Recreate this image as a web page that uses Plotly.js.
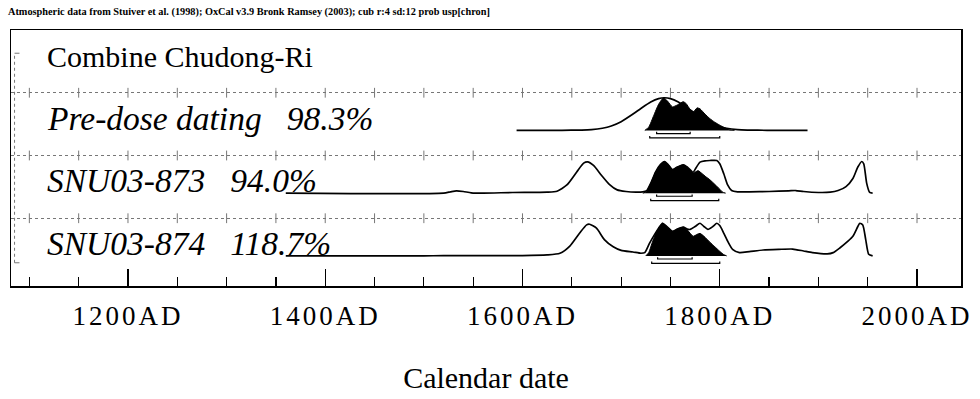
<!DOCTYPE html>
<html>
<head>
<meta charset="utf-8">
<script src="https://cdn.plot.ly/plotly-3.0.1.min.js"></script>
<style>
  html, body { margin: 0; padding: 0; background: #fff; }
  #chart { width: 980px; height: 399px; }
  .xtick text { letter-spacing: 3px; }
</style>
</head>
<body>
<div id="chart"></div>
<script>
// ---------------- Data ----------------
const rowLabels = ["Combine Chudong-Ri", "Pre-dose dating\u00a0\u00a0\u00a098.3%", "SNU03-873\u00a0\u00a0\u00a094.0%", "SNU03-874\u00a0\u00a0\u00a0118.7%"];

// Pre-dose dating: likelihood (outline) and posterior (filled), relative probability
const predoseOutlineYears = [1594,1640,1660,1670,1681,1690,1700,1712,1720,1730,1738,1744,1750,1758,1768,1776,1788,1798,1807,1818,1828,1848,1889];
const predoseOutlineProb  = [0,0.003,0.01,0.023,0.066,0.135,0.266,0.50,0.67,0.87,0.975,1.0,0.975,0.87,0.67,0.5,0.266,0.135,0.066,0.023,0.01,0.003,0];
const predoseFillYears = [1724,1728,1733,1738,1743,1747,1752,1757,1763,1766,1770,1773,1777,1780,1785,1790,1795,1800,1805,1810,1815];
const predoseFillProb  = [0,0.1,0.45,0.8,1.0,0.9,0.72,0.78,0.88,0.82,0.64,0.56,0.69,0.66,0.5,0.36,0.25,0.16,0.08,0.02,0];

// SNU03-873
const s873OutlineYears = [1360,1520,1527,1533,1540,1548,1560,1590,1625,1635,1645,1655,1662,1666,1672,1680,1688,1696,1705,1715,1722,1726,1730,1735,1740,1744,1748,1752,1757,1763,1767,1773,1776,1780,1785,1790,1797,1800,1804,1808,1812,1818,1830,1850,1870,1877,1885,1900,1912,1920,1928,1935,1940,1944,1946,1949,1952,1955];
const s873OutlineProb  = [0,0,0.04,0.07,0.05,0.01,0,0.02,0.03,0.06,0.25,0.65,0.92,0.96,0.85,0.55,0.27,0.1,0.05,0.03,0.04,0.08,0.3,0.65,0.88,0.97,0.86,0.72,0.8,0.87,0.8,0.64,0.78,0.95,0.99,1.0,1.0,0.9,0.6,0.25,0.08,0.04,0.04,0.05,0.07,0.08,0.05,0.02,0.03,0.08,0.2,0.45,0.8,0.97,0.9,0.3,0.02,0];
const s873FillYears = [1722,1726,1730,1735,1740,1744,1748,1752,1757,1763,1767,1773,1776,1778,1782,1786,1790,1795,1800,1803,1806];
const s873FillProb  = [0,0.05,0.3,0.65,0.88,0.97,0.86,0.72,0.8,0.87,0.8,0.62,0.66,0.69,0.6,0.5,0.41,0.27,0.12,0.03,0];

// SNU03-874
const s874OutlineYears = [1360,1500,1520,1600,1625,1638,1648,1658,1665,1668,1675,1683,1692,1700,1712,1720,1724,1729,1734,1738,1742,1747,1752,1757,1763,1767,1770,1775,1780,1784,1788,1793,1797,1800,1804,1808,1813,1820,1830,1844,1860,1874,1885,1894,1909,1915,1922,1930,1935,1940,1942,1945,1948,1951,1955];
const s874OutlineProb  = [0,0,0.01,0.01,0.03,0.08,0.3,0.7,0.95,0.97,0.85,0.5,0.28,0.17,0.12,0.08,0.1,0.4,0.66,0.85,1.0,0.88,0.75,0.82,0.88,0.82,0.81,0.9,1.0,0.9,0.81,0.9,1.0,0.93,0.7,0.45,0.2,0.1,0.13,0.18,0.2,0.21,0.15,0.1,0.06,0.1,0.25,0.45,0.6,0.9,1.0,0.95,0.5,0.05,0];
const s874FillYears = [1725,1728,1732,1737,1742,1747,1752,1757,1763,1767,1773,1777,1780,1784,1790,1795,1800,1804,1807];
const s874FillProb  = [0,0.1,0.45,0.8,1.0,0.88,0.75,0.82,0.88,0.8,0.6,0.66,0.69,0.6,0.42,0.28,0.14,0.04,0];

// Highest probability ranges [start, end] : 68.2% and 95.4%
const predose68 = [1736, 1770], predose95 = [1729, 1800];
const s873_68 = [1736, 1772],  s873_95 = [1730, 1799];
const s874_68 = [1737, 1772],  s874_95 = [1731, 1800];

// Axis ticks
const majorTickYears = [1200, 1400, 1600, 1800, 2000];
const majorTickText  = ["1200AD", "1400AD", "1600AD", "1800AD", "2000AD"];
const gridTickYears  = [1100,1150,1200,1250,1300,1350,1400,1450,1500,1550,1600,1650,1700,1750,1800,1850,1900,1950,2000];

const headerText = "Atmospheric data from Stuiver et al. (1998); OxCal v3.9 Bronk Ramsey (2003); cub r:4 sd:12 prob usp[chron]";

// ---------------- Build ----------------
const FONT = "Liberation Serif, Times New Roman, serif";
const H = 0.52;          // height of a unit probability in row units
const rows = [
  {base: 2.4, oy: predoseOutlineYears, op: predoseOutlineProb, fy: predoseFillYears, fp: predoseFillProb, r68: predose68, r95: predose95},
  {base: 1.4, oy: s873OutlineYears, op: s873OutlineProb, fy: s873FillYears, fp: s873FillProb, r68: s873_68, r95: s873_95},
  {base: 0.4, oy: s874OutlineYears, op: s874OutlineProb, fy: s874FillYears, fp: s874FillProb, r68: s874_68, r95: s874_95}
];

const traces = [];
// separator tick marks on dotted grid lines
[1, 2, 3].forEach(sep => {
  traces.push({
    x: gridTickYears, y: gridTickYears.map(() => sep),
    mode: "markers", type: "scatter", hoverinfo: "skip", showlegend: false,
    marker: {symbol: "line-ns", size: 7, line: {width: 1, color: "#777"}}
  });
});

rows.forEach(r => {
  traces.push({
    x: r.oy, y: r.op.map(p => r.base + p * H),
    mode: "lines", type: "scatter", hoverinfo: "skip", showlegend: false,
    line: {color: "#000", width: 1.7, shape: "spline", smoothing: 0.6}
  });
  traces.push({
    x: r.fy, y: r.fp.map(p => r.base + p * H),
    mode: "lines", type: "scatter", fill: "toself", fillcolor: "#000",
    hoverinfo: "skip", showlegend: false,
    line: {color: "#000", width: 1, shape: "spline", smoothing: 0.5}
  });
  const b68 = r.base - 0.05, b95 = r.base - 0.12, e = 0.03;
  traces.push({
    x: [r.r68[0], r.r68[0], r.r68[1], r.r68[1]], y: [b68 + e, b68, b68, b68 + e],
    mode: "lines", type: "scatter", hoverinfo: "skip", showlegend: false,
    line: {color: "#000", width: 1.2}
  });
  traces.push({
    x: [r.r95[0], r.r95[0], r.r95[1], r.r95[1]], y: [b95 + e, b95, b95, b95 + e],
    mode: "lines", type: "scatter", hoverinfo: "skip", showlegend: false,
    line: {color: "#000", width: 1.2}
  });
});

const annotations = [
  {text: "<b>" + headerText + "</b>", xref: "paper", yref: "paper", x: -0.0053, y: 1.0703,
   xanchor: "left", yanchor: "middle", showarrow: false, font: {family: FONT, size: 10.3, color: "#000"}},
];
const labelY = [3.58, 2.59, 1.60, 0.60];
rowLabels.forEach((t, i) => {
  annotations.push({
    text: i === 0 ? t : "<i>" + t + "</i>", xref: "paper", yref: "y",
    x: 0.0358, y: labelY[i], xanchor: "left", yanchor: "middle", showarrow: false,
    font: {family: FONT, size: i === 0 ? 30 : 33.5, color: "#000"}
  });
});

const layout = {
  width: 980, height: 399,
  margin: {l: 11, r: 19, t: 30, b: 113},
  paper_bgcolor: "#fff", plot_bgcolor: "#fff",
  showlegend: false,
  xaxis: {
    range: [1081.4, 2044.6],
    tickmode: "array", tickvals: majorTickYears, ticktext: majorTickText,
    ticks: "inside", ticklen: 17, tickwidth: 1.3, tickcolor: "#000",
    ticklabelstandoff: 5,
    minor: {tickmode: "linear", tick0: 1100, dtick: 50, ticks: "inside", ticklen: 9, tickwidth: 1.2, tickcolor: "#000", showgrid: false},
    showgrid: false, zeroline: false,
    showline: true, mirror: true, linecolor: "#000", linewidth: 1.5,
    tickfont: {family: FONT, size: 27, color: "#000"},
    title: {text: "Calendar date", font: {family: FONT, size: 30, color: "#000"}, standoff: 37}
  },
  yaxis: {
    range: [-0.08, 4.0],
    tickmode: "array", tickvals: [1, 2, 3], showticklabels: false, ticks: "",
    showgrid: true, gridcolor: "#777", gridwidth: 1, griddash: "dot",
    zeroline: false, showline: true, mirror: true, linecolor: "#000", linewidth: 1.5
  },
  shapes: [
    {type: "line", xref: "x", yref: "y", x0: 1085, x1: 1085, y0: 0.29, y1: 3.63, line: {color: "#777", width: 1, dash: "dot"}},
    {type: "line", xref: "x", yref: "y", x0: 1085, x1: 1090, y0: 3.63, y1: 3.63, line: {color: "#777", width: 1}},
    {type: "line", xref: "x", yref: "y", x0: 1085, x1: 1090, y0: 0.29, y1: 0.29, line: {color: "#777", width: 1}}
  ],
  annotations: annotations
};

Plotly.newPlot("chart", traces, layout, {staticPlot: true, displayModeBar: false});
</script>
</body>
</html>
